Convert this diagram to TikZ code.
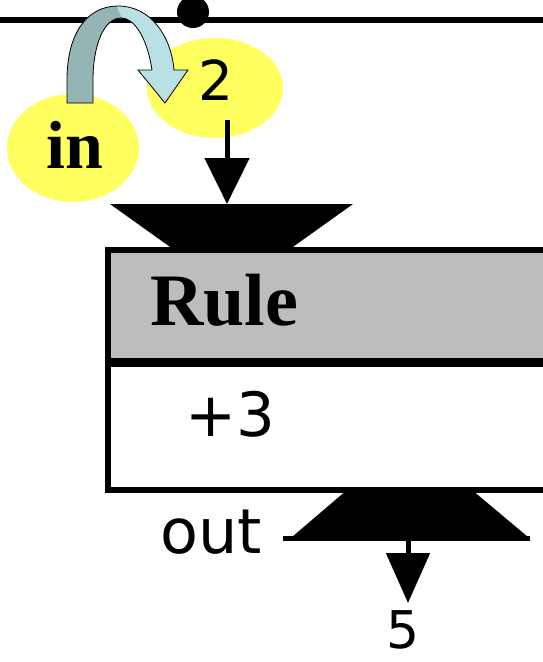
\documentclass[tikz,border=0pt]{standalone}
\usepackage{fontspec}
\setmainfont{Liberation Serif}
\newfontfamily\labelfont{DejaVu Sans}
\usetikzlibrary{arrows.meta,calc,shapes.geometric}

\definecolor{glowy}{RGB}{255,255,96}
\definecolor{backteal}{RGB}{149,180,180}
\definecolor{frontcyan}{RGB}{185,224,228}
\definecolor{headgray}{RGB}{189,189,189}

% soft yellow halo: solid core fading to white at the rim
\pgfdeclareradialshading{glowshade}{\pgfpoint{0bp}{0bp}}{color(0bp)=(glowy); color(30bp)=(glowy); color(40bp)=(glowy!65); color(50bp)=(white); color(80bp)=(white)}

% outline of the bent block arrow
\newcommand\bentband{(67,103) -- (67,80) .. controls (67,32) and (88,6) .. (118,6)
  .. controls (150,6) and (171,35) .. (174,70) -- (188,70) -- (165,103) -- (138,70)
  -- (152,70) .. controls (148,42) and (136,18) .. (121,18)
  .. controls (104,18) and (93,45) .. (93,80) -- (93,103) -- cycle}

\begin{document}
\begin{tikzpicture}[x=1pt,y=-1pt,
    glow/.style={ellipse, shading=glowshade, draw=none, inner sep=0pt},
    bigserif/.style={inner sep=0pt, font=\bfseries\fontsize{#1}{#1}\selectfont},
    bigsans/.style={inner sep=0pt, font=\labelfont\fontsize{#1}{#1}\selectfont},
    flow/.style={line width=5pt, -{Triangle[width=44pt,length=46pt]}}]
  \clip (0,0) rectangle (543,662);
  \fill[white] (0,0) rectangle (543,662);

  % rail with its joint
  \draw[line width=6pt] (0,20) -- (543,20);
  \fill (193,12) circle [radius=16];

  % halos
  \node[glow, minimum width=132pt, minimum height=108pt] (inglow) at (73,148) {};
  \node[glow, minimum width=136pt, minimum height=100pt] (twoglow) at (215,88) {};

  % bent arrow from "in" over to "2"
  \fill[frontcyan] \bentband;
  \begin{scope}
    \clip (0,0) -- (114,0) -- (126,28) -- (126,120) -- (0,120) -- cycle;
    \fill[backteal] \bentband;
  \end{scope}
  \draw[line width=0.8pt] \bentband;

  % labels in the halos
  \node[bigserif=68, anchor=base] (in) at (75,168) {in};
  \node[bigsans=55, anchor=base] (two) at (216,100) {2};

  % rule box: grey header, white body
  \coordinate (boxnw) at (108,250);
  \coordinate (boxse) at (560,490);
  \fill[headgray] (boxnw) rectangle (560,362);
  \draw[line width=6pt] (boxnw) rectangle (boxse);
  \draw[line width=9pt] (108,362) -- (560,362);
  \node[bigserif=74, anchor=base west] (rule) at (150,325) {Rule};
  \node[bigsans=61, anchor=base west] (plus) at (185,436) {+3};

  % input funnel on top of the box
  \coordinate (funnelin) at (227,204);
  \fill (110,204) -- (353,204) -- (290,249) -- (173,249) -- cycle;

  % output funnel under the box
  \coordinate (funnelout) at (408,540);
  \coordinate (outtip) at (408,603);
  \fill (347,490) -- (472,490) -- (528,537) -- (292,537) -- cycle;
  \draw[line width=5pt] (283,538.5) -- (530,538.5);
  \node[bigsans=62, anchor=base west] (out) at (160,553) {out};
  \node[bigsans=52, anchor=base] (five) at (403,648) {5};

  % connectors
  \draw[flow] (two.south -| funnelin) ++(0,20) -- (funnelin);
  \draw[flow, -{Triangle[width=43pt,length=50pt]}] (funnelout) -- (outtip);
\end{tikzpicture}
\end{document}
